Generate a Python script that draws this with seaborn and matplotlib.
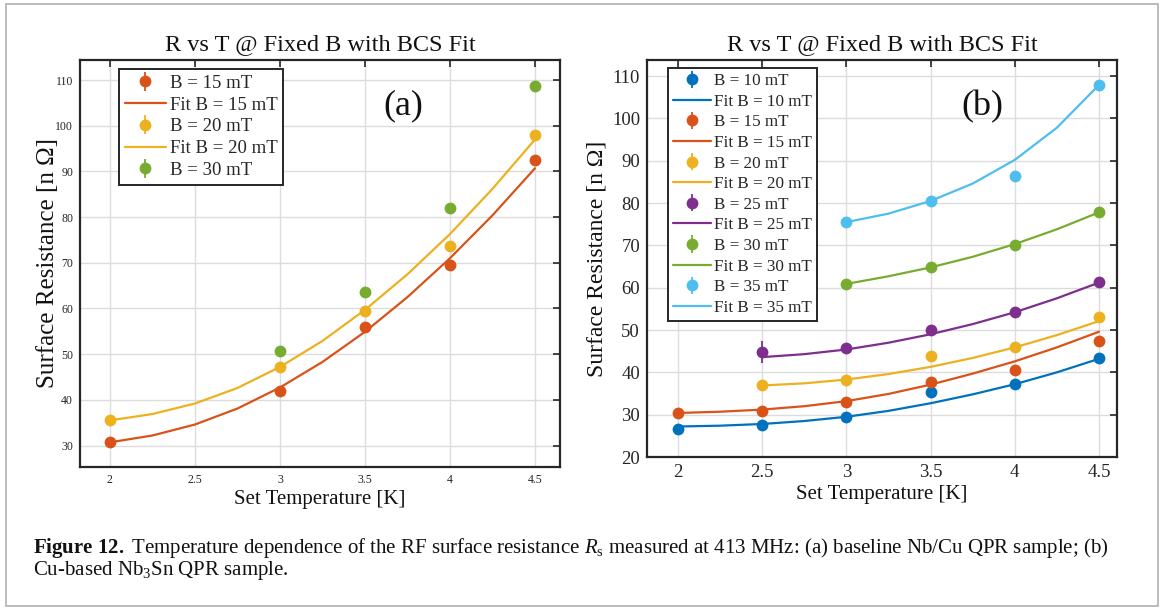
import numpy as np
import pandas as pd
import matplotlib
matplotlib.use("Agg")
import matplotlib.pyplot as plt
import seaborn as sns
from matplotlib.patches import Rectangle

# ---------------- data ----------------
T_fit = [2.0, 2.25, 2.5, 2.75, 3.0, 3.25, 3.5, 3.75, 4.0, 4.25, 4.5]

# panel (a): baseline Nb/Cu
a_T15 = [2.0, 3.0, 3.5, 4.0, 4.5]
a_R15 = [30.7, 42.0, 56.0, 69.5, 92.4]
a_T20 = [2.0, 3.0, 3.5, 4.0, 4.5]
a_R20 = [35.5, 47.1, 59.5, 73.6, 97.9]
a_T30 = [3.0, 3.5, 4.0, 4.5]
a_R30 = [50.6, 63.7, 82.1, 108.8]
a_fit15 = [30.7, 32.2, 34.6, 38.1, 42.7, 48.3, 54.9, 62.5, 71.0, 80.4, 90.7]
a_fit20 = [35.5, 36.9, 39.2, 42.6, 47.2, 52.9, 59.7, 67.5, 76.3, 86.2, 97.0]

# panel (b): Cu-based Nb3Sn
b_T10 = [2.0, 2.5, 3.0, 3.5, 4.0, 4.5]
b_R10 = [26.5, 27.6, 29.5, 35.3, 37.3, 43.5]
b_T15 = [2.0, 2.5, 3.0, 3.5, 4.0, 4.5]
b_R15 = [30.4, 30.9, 33.1, 37.7, 40.6, 47.5]
b_T20 = [2.5, 3.0, 3.5, 4.0, 4.5]
b_R20 = [36.9, 38.3, 43.9, 45.9, 53.0]
b_T25 = [2.5, 3.0, 3.5, 4.0, 4.5]
b_R25 = [44.8, 45.7, 50.1, 54.2, 61.3]
b_T30 = [3.0, 3.5, 4.0, 4.5]
b_R30 = [60.9, 64.8, 70.0, 77.8]
b_T35 = [3.0, 3.5, 4.0, 4.5]
b_R35 = [75.5, 80.4, 86.5, 108.0]
b_err25 = [2.6, 0.6, 0.6, 0.6, 0.6]

b_Tfit10 = T_fit
b_fit10 = [27.2, 27.4, 27.8, 28.5, 29.5, 30.9, 32.7, 34.8, 37.2, 40.0, 43.2]
b_Tfit15 = T_fit
b_fit15 = [30.4, 30.7, 31.2, 32.0, 33.2, 34.9, 37.1, 39.7, 42.6, 45.9, 49.6]
b_Tfit20 = [2.5, 2.75, 3.0, 3.25, 3.5, 3.75, 4.0, 4.25, 4.5]
b_fit20 = [36.9, 37.4, 38.3, 39.6, 41.3, 43.4, 45.9, 48.8, 52.1]
b_Tfit25 = [2.5, 2.75, 3.0, 3.25, 3.5, 3.75, 4.0, 4.25, 4.5]
b_fit25 = [43.6, 44.3, 45.4, 47.0, 49.0, 51.4, 54.2, 57.5, 61.2]
b_Tfit30 = [3.0, 3.25, 3.5, 3.75, 4.0, 4.25, 4.5]
b_fit30 = [60.9, 62.7, 64.8, 67.3, 70.3, 73.8, 77.8]
b_Tfit35 = [3.0, 3.25, 3.5, 3.75, 4.0, 4.25, 4.5]
b_fit35 = [75.5, 77.5, 80.5, 84.6, 90.2, 97.8, 107.9]

x_ticks = [2, 2.5, 3, 3.5, 4, 4.5]
x_ticklabels = ["2", "2.5", "3", "3.5", "4", "4.5"]

# ---------------- style ----------------
sns.set_theme(style="white")
plt.rcParams["font.family"] = ["Liberation Serif", "DejaVu Serif"]
plt.rcParams["mathtext.fontset"] = "custom"
plt.rcParams["mathtext.rm"] = "Liberation Serif"
plt.rcParams["mathtext.it"] = "Liberation Serif:italic"
plt.rcParams["mathtext.bf"] = "Liberation Serif:bold"
plt.rcParams["lines.solid_joinstyle"] = "round"

C_BLUE = "#0072BD"
C_RED = "#D95319"
C_YEL = "#EDB120"
C_PUR = "#7E2F8E"
C_GRN = "#77AC30"
C_CYA = "#4DBEEE"
FRAME = "#262626"

W, H = 1168, 608
fig = plt.figure(figsize=(W / 100, H / 100), dpi=100)
fig.patch.set_facecolor("white")

# outer frame
fig.add_artist(Rectangle((6 / W, 1 - 606 / H), (1158 - 6) / W, (606 - 4) / H,
                         transform=fig.transFigure, fill=False,
                         edgecolor="#b0b0b0", linewidth=1.2))

axA = fig.add_axes([80 / W, 1 - 467 / H, (560 - 80) / W, (467 - 60) / H])
axB = fig.add_axes([647 / W, 1 - 457 / H, (1117 - 647) / W, (457 - 60) / H])


def points(ax, x, y, color, label, yerr=None):
    if yerr is None:
        yerr = [0.6] * len(x)
    return ax.errorbar(x, y, yerr=yerr, fmt="o", color=color, markersize=8.5,
                       markeredgewidth=0, elinewidth=1.3, capsize=3,
                       capthick=1.3, label=label, zorder=3)


def fit(ax, x, y, color, label):
    df = pd.DataFrame({"T": x, "R": y})
    sns.lineplot(data=df, x="T", y="R", ax=ax, color=color, linewidth=1.6,
                 legend=False, zorder=2)
    return ax.lines[-1]


def style_axes(ax, lims, yticks, tick_fs, ylab_x, ylab_fs):
    ax.set_xlim(*lims[0])
    ax.set_ylim(*lims[1])
    ax.set_xticks(x_ticks)
    ax.set_xticklabels(x_ticklabels)
    ax.set_yticks(yticks)
    ax.grid(True, color="#dcdcdc", linewidth=1.0)
    ax.set_axisbelow(True)
    for s in ax.spines.values():
        s.set_visible(True)
        s.set_color(FRAME)
        s.set_linewidth(1.6)
    ax.tick_params(direction="in", top=True, right=True, length=5, width=1.2,
                   color=FRAME, labelsize=tick_fs, labelcolor="#262626", pad=5)
    ax.set_title("R vs T @ Fixed B with BCS Fit", fontsize=17.5, pad=7,
                 color="#111111")
    ax.set_xlabel("Set Temperature [K]", fontsize=15, color="#111111", labelpad=3)
    ax.set_ylabel("Surface Resistance [n \u03a9]", fontsize=ylab_fs,
                  color="#111111")
    ax.yaxis.set_label_coords(ylab_x, 0.5)


# ---------- panel (a) ----------
hA = []
hA.append(points(axA, a_T15, a_R15, C_RED, "B = 15 mT"))
hA.append(fit(axA, T_fit, a_fit15, C_RED, "Fit B = 15 mT"))
hA.append(points(axA, a_T20, a_R20, C_YEL, "B = 20 mT"))
hA.append(fit(axA, T_fit, a_fit20, C_YEL, "Fit B = 20 mT"))
hA.append(points(axA, a_T30, a_R30, C_GRN, "B = 30 mT"))
labA = ["B = 15 mT", "Fit B = 15 mT", "B = 20 mT", "Fit B = 20 mT", "B = 30 mT"]
style_axes(axA, ((1.824, 4.647), (25.3, 114.4)), list(range(30, 111, 10)), 8.5,
           (59 - 80) / 480, 18)
legA = axA.legend(hA, labA, loc="upper left", bbox_to_anchor=(0.081, 0.978),
                  borderaxespad=0, fontsize=13.5, frameon=True, fancybox=False,
                  framealpha=1, edgecolor=FRAME, handlelength=2.2,
                  handletextpad=0.2, labelspacing=0.25, borderpad=0.3)
legA.get_frame().set_linewidth(1.4)
axA.text(0.673, 0.888, "(a)", transform=axA.transAxes, fontsize=26,
         ha="center", va="center", color="#111111")

# ---------- panel (b) ----------
hB = []
labB = []
for (tx, ry, tf, rf, col, b, err) in [
        (b_T10, b_R10, b_Tfit10, b_fit10, C_BLUE, 10, None),
        (b_T15, b_R15, b_Tfit15, b_fit15, C_RED, 15, None),
        (b_T20, b_R20, b_Tfit20, b_fit20, C_YEL, 20, None),
        (b_T25, b_R25, b_Tfit25, b_fit25, C_PUR, 25, b_err25),
        (b_T30, b_R30, b_Tfit30, b_fit30, C_GRN, 30, None),
        (b_T35, b_R35, b_Tfit35, b_fit35, C_CYA, 35, None)]:
    hB.append(points(axB, tx, ry, col, f"B = {b} mT", err))
    labB.append(f"B = {b} mT")
    hB.append(fit(axB, tf, rf, col, f"Fit B = {b} mT"))
    labB.append(f"Fit B = {b} mT")
style_axes(axB, ((1.816, 4.607), (20, 113.8)), list(range(20, 111, 10)), 13.5,
           (608 - 647) / 470, 17)
legB = axB.legend(hB, labB, loc="upper left", bbox_to_anchor=(0.045, 0.980),
                  borderaxespad=0, fontsize=12.3, frameon=True, fancybox=False,
                  framealpha=1, edgecolor=FRAME, handlelength=2.2,
                  handletextpad=0.2, labelspacing=0.27, borderpad=0.3)
legB.get_frame().set_linewidth(1.4)
axB.text(0.714, 0.882, "(b)", transform=axB.transAxes, fontsize=26,
         ha="center", va="center", color="#111111")

# ---------- caption ----------
fig.text(33 / W, 1 - 548 / H,
         r"$\mathbf{Figure\ 12.}$ Temperature dependence of the RF surface resistance "
         r"$R_\mathrm{s}$ measured at 413 MHz: (a) baseline Nb/Cu QPR sample; (b)",
         fontsize=15, ha="left", va="center", color="#111111")
fig.text(33 / W, 1 - 571 / H, r"Cu-based Nb$_3$Sn QPR sample.",
         fontsize=15, ha="left", va="center", color="#111111")

fig.savefig("out.png", dpi=100, facecolor="white")
